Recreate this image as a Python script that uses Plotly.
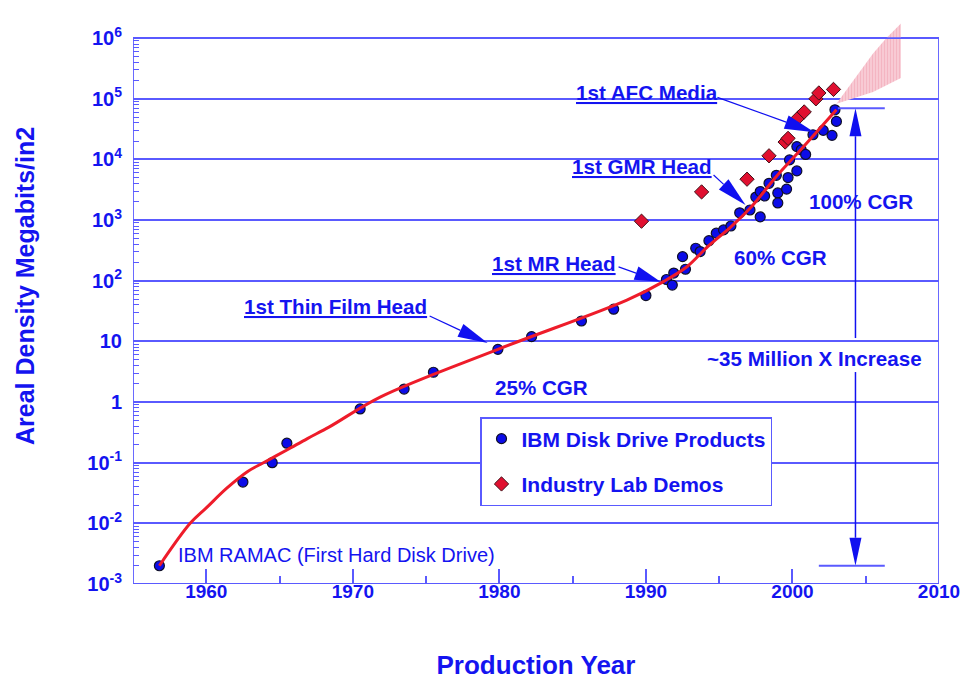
import numpy as np
import plotly.graph_objects as go

# ---- data -------------------------------------------------------------
# IBM disk drive products: production year and areal density (Mb/in^2)
ibm_years = [1956.8, 1962.5, 1964.5, 1965.5, 1970.5, 1973.5, 1975.5, 1979.9, 1982.2,
             1985.6, 1987.8, 1990.0, 1991.4, 1991.8, 1991.9, 1992.5, 1992.7, 1993.4,
             1993.7, 1994.3, 1994.8, 1995.3, 1995.8, 1996.4, 1997.1, 1997.5, 1997.8,
             1997.8, 1998.1, 1998.4, 1998.9, 1999.0, 1999.0, 1999.6, 1999.7, 1999.8,
             2000.3, 2000.3, 2000.6, 2000.9, 2001.4, 2002.1, 2002.7, 2002.9, 2003.0]
ibm_density = [0.002, 0.048, 0.10, 0.21, 0.77, 1.64, 3.1, 7.4, 12,
               21.7, 34, 57, 105, 85, 134, 250, 155, 344,
               303, 458, 610, 690, 800, 1320, 1470, 2400, 1130,
               2960, 2500, 4050, 5480, 2810, 1920, 3250, 5040, 9850,
               6480, 16300, 14400, 12100, 25600, 30200, 25000, 66000, 42500]

# Industry laboratory demonstrations
demo_years = [1989.7, 1993.8, 1996.9, 1998.4, 1999.5, 1999.7, 2000.4, 2000.8,
              2001.6, 2001.8, 2002.8]
demo_density = [960, 2920, 4730, 11500, 19400, 22300, 49000, 60800,
                100000, 125000, 143000]

# Trend curve through the product history
fit_years = [1956.8, 1958.9, 1960.0, 1961.4, 1962.8, 1963.9, 1965.5, 1966.9, 1968.4,
             1971.9, 1979.9, 1988.7, 1991.2, 1992.8, 1994.2, 1995.8, 1997.2, 1998.9,
             2000.75, 2003.0]
fit_density = [0.002, 0.010, 0.018, 0.038, 0.071, 0.10, 0.162, 0.25, 0.39,
               1.22, 7.4, 48, 97, 170, 363, 776, 1660, 5250,
               16200, 66000]

# Projected range beyond 2003
proj_upper_years = [2003.0, 2004.8, 2005.5, 2006.4, 2007.4]
proj_upper = [8.3e4, 3.2e5, 5.6e5, 1.0e6, 1.75e6]
proj_lower_years = [2003.0, 2005.5, 2007.4]
proj_lower = [8.3e4, 1.3e5, 2.2e5]

# "~35 Million X Increase" span
increase_year = 2004.3
increase_top = 7.0e4
increase_bottom = 2.0e-3

x_ticks = [1960, 1970, 1980, 1990, 2000, 2010]
x_minor = [1955, 1965, 1975, 1985, 1995, 2005]
y_ticks = [1e-3, 1e-2, 1e-1, 1, 10, 1e2, 1e3, 1e4, 1e5, 1e6]
y_ticktext = ["10<sup>-3</sup>", "10<sup>-2</sup>", "10<sup>-1</sup>", "1", "10",
              "10<sup>2</sup>", "10<sup>3</sup>", "10<sup>4</sup>", "10<sup>5</sup>",
              "10<sup>6</sup>"]

# ---- styling / geometry ------------------------------------------------
FONT = "Liberation Sans, Arial, sans-serif"
TEXT = "#1414f0"
GRID = "#5a5aff"
ARROW = "#1010f0"
LABEL_SIZE = 20.6

W, H = 969, 680
PL, PR, PT, PB = 133, 30, 20, 96
PW, PH = W - PL - PR, H - PT - PB
X_MIN, X_MAX = 1955, 2010
LOG_MIN, LOG_MAX = -3.0, 6.3


def px_of(year, value):
    x = PL + (year - X_MIN) / (X_MAX - X_MIN) * PW
    y = PT + (LOG_MAX - np.log10(value)) / (LOG_MAX - LOG_MIN) * PH
    return x, y


def paper(x, y):
    return (x - PL) / PW, (PT + PH - y) / PH


shapes = []


def add_arrow(tail, tip, length, half, line_w=1.3):
    (tx, ty), (hx, hy) = tail, tip
    dx, dy = hx - tx, hy - ty
    d = np.hypot(dx, dy)
    ux, uy = dx / d, dy / d
    bx, by = hx - ux * length, hy - uy * length
    nx, ny = -uy * half, ux * half
    p0, p1 = paper(tx, ty), paper(bx, by)
    shapes.append(dict(type="line", xref="paper", yref="paper",
                       x0=p0[0], y0=p0[1], x1=p1[0], y1=p1[1],
                       line=dict(color=ARROW, width=line_w)))
    pts = [paper(hx, hy), paper(bx + nx, by + ny), paper(bx - nx, by - ny)]
    path = "M " + " L ".join(f"{a:.5f},{b:.5f}" for a, b in pts) + " Z"
    shapes.append(dict(type="path", xref="paper", yref="paper", path=path,
                       fillcolor=ARROW, line=dict(width=0)))


# plot frame (shape coordinates on the log axis are given as data values)
shapes.append(dict(type="rect", xref="x", yref="y", x0=X_MIN, x1=X_MAX,
                   y0=1e-3, y1=1e6, line=dict(color=GRID, width=1.8), layer="above"))

# callout arrows: tip in data space, tail offset in pixels
callouts = [
    ((1979.2, 9.4), (-58, -27), 30, 7),
    ((1991.0, 96), (-42, -15), 26, 7),
    ((1996.8, 1780), (-32, -30), 30, 7),
    ((2001.5, 28000), (-97, -35), 30, 7),
]
for (yr, val), (ox, oy), L, hw in callouts:
    tip = px_of(yr, val)
    add_arrow((tip[0] + ox, tip[1] + oy), tip, L, hw, 1.2)

# ~35 million X increase double arrow
top_tip = px_of(increase_year, increase_top)
bot_tip = px_of(increase_year, increase_bottom)
label_y = px_of(increase_year, 10 ** 0.726)[1]
add_arrow((top_tip[0], label_y - 20), top_tip, 28, 6, 1.5)
add_arrow((bot_tip[0], label_y + 14), bot_tip, 28, 6, 1.5)
shapes.append(dict(type="line", xref="x", yref="y", x0=2003.1, x1=2006.3,
                   y0=increase_top, y1=increase_top,
                   line=dict(color=GRID, width=1.8)))
shapes.append(dict(type="line", xref="x", yref="y", x0=2001.8, x1=2006.3,
                   y0=increase_bottom, y1=increase_bottom,
                   line=dict(color=GRID, width=1.8)))

fig = go.Figure()

# projection wedge
fig.add_trace(go.Scatter(
    x=proj_upper_years + proj_lower_years[::-1],
    y=proj_upper + proj_lower[::-1],
    mode="lines", fill="toself", line=dict(width=0, color="rgba(0,0,0,0)"),
    fillcolor="#f5bcc7",
    fillpattern=dict(shape="|", fgcolor="#ef98aa", bgcolor="#f9d3db",
                     size=3, solidity=0.55),
    showlegend=False, hoverinfo="skip"))

fig.add_trace(go.Scatter(
    x=ibm_years, y=ibm_density, mode="markers", name="IBM Disk Drive Products",
    legendgroup="a",
    marker=dict(symbol="circle", size=10, color="#0c0ce8",
                line=dict(color="#101028", width=1.2))))

fig.add_trace(go.Scatter(
    x=demo_years, y=demo_density, mode="markers", name="Industry Lab Demos",
    legendgroup="b",
    marker=dict(symbol="diamond", size=11, color="#e01030",
                line=dict(color="#401018", width=1))))

fig.add_trace(go.Scatter(
    x=fit_years, y=fit_density, mode="lines",
    line=dict(color="#ee1c2a", width=3, shape="spline", smoothing=1.0),
    showlegend=False, hoverinfo="skip"))

# text labels (year, density, text, weight); annotation positions on a log axis are log10
labels = [
    (1968.8, 10 ** 1.584, "<u>1st Thin Film Head</u>", "bold"),
    (1983.7, 10 ** 2.293, "<u>1st MR Head</u>", "bold"),
    (1989.7, 10 ** 3.892, "<u>1st GMR Head</u>", "bold"),
    (1990.1, 10 ** 5.112, "<u>1st AFC Media</u>", "bold"),
    (2004.7, 10 ** 3.30, "100% CGR", "bold"),
    (1999.15, 10 ** 2.39, "60% CGR", "bold"),
    (1982.85, 10 ** 0.232, "25% CGR", "bold"),
    (2001.5, 10 ** 0.726, "~35 Million X Increase", "bold"),
]
annotations = []
for yr, val, txt, wt in labels:
    annotations.append(dict(x=yr, y=np.log10(val), xref="x", yref="y", text=txt,
                            showarrow=False, xanchor="center", yanchor="middle",
                            font=dict(family=FONT, size=LABEL_SIZE, color=TEXT, weight=wt)))
annotations.append(dict(x=1957.9, y=-2.52, xref="x", yref="y",
                        text="IBM RAMAC (First Hard Disk Drive)", showarrow=False,
                        xanchor="left", yanchor="middle",
                        font=dict(family=FONT, size=20, color=TEXT, weight="normal")))

# y-axis title
ty_x, ty_y = paper(25, 286)
annotations.append(dict(x=ty_x, y=ty_y, xref="paper", yref="paper",
                        text="Areal Density Megabits/in2", textangle=-90,
                        showarrow=False, xanchor="center", yanchor="middle",
                        font=dict(family=FONT, size=25, color=TEXT, weight="bold")))

y_minor = [k * 10.0 ** e for e in range(-3, 6) for k in range(2, 10)]

fig.update_layout(
    width=W, height=H, autosize=False,
    margin=dict(l=PL, r=PR, t=PT, b=PB, autoexpand=False),
    paper_bgcolor="white", plot_bgcolor="white",
    font=dict(family=FONT, color=TEXT),
    shapes=shapes, annotations=annotations,
    showlegend=True,
    legend=dict(x=(480 - PL) / PW, y=(PT + PH - 417) / PH, xanchor="left", yanchor="top",
                bgcolor="white", bordercolor=GRID, borderwidth=1.5,
                font=dict(family=FONT, size=21, color=TEXT, weight="bold"),
                traceorder="grouped", tracegroupgap=15, itemsizing="trace"),
    xaxis=dict(range=[X_MIN, X_MAX], tickvals=x_ticks, ticks="inside", ticklen=15,
               tickwidth=1.5, tickcolor=GRID, showgrid=False, zeroline=False,
               showline=False, ticklabelstandoff=-6, automargin=False,
               tickfont=dict(family=FONT, size=19, color=TEXT, weight="bold"),
               minor=dict(tickvals=x_minor, ticks="inside", ticklen=8, tickwidth=1.5,
                          tickcolor=GRID, showgrid=False),
               title=dict(text="Production Year", standoff=54,
                          font=dict(family=FONT, size=26, color=TEXT, weight="bold"))),
    yaxis=dict(type="log", range=[LOG_MIN, LOG_MAX], tickvals=y_ticks, ticktext=y_ticktext,
               ticks="", showgrid=True, gridcolor=GRID, gridwidth=1.6, zeroline=False,
               showline=False, ticklabelstandoff=10, automargin=False,
               tickfont=dict(family=FONT, size=20, color=TEXT, weight="bold"),
               minor=dict(tickvals=y_minor, ticks="inside", ticklen=6, tickwidth=1.2,
                          tickcolor=GRID, showgrid=False)),
)

fig.write_html("out.html")
